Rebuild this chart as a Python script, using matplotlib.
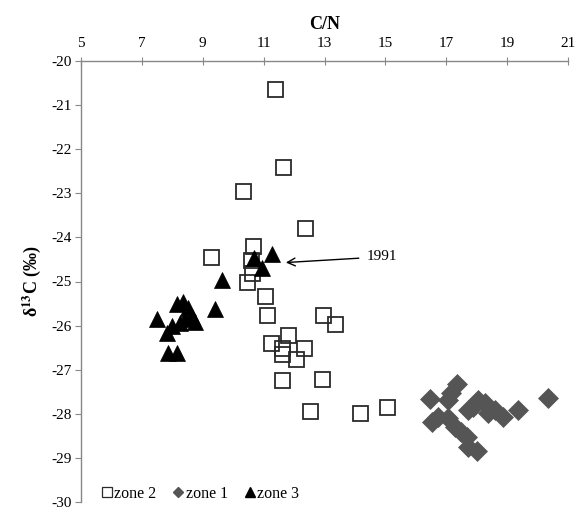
import matplotlib
matplotlib.use("Agg")
import matplotlib.pyplot as plt
from matplotlib.lines import Line2D

# ---- data ----
zone2_x = [11.37, 11.65, 10.33, 12.36, 10.66, 9.26, 10.58, 10.61, 10.46, 11.04, 11.10, 12.95,
           13.34, 11.23, 11.81, 11.59, 11.59, 12.33, 12.06, 11.62, 12.92, 12.54, 14.17, 15.04]
zone2_y = [-20.63, -22.40, -22.95, -23.78, -24.19, -24.45, -24.51, -24.81, -25.00, -25.33, -25.76, -25.76,
           -25.96, -26.39, -26.21, -26.51, -26.64, -26.50, -26.76, -27.23, -27.22, -27.93, -27.99, -27.85]

zone1_x = [16.47, 17.34, 17.17, 17.06, 16.74, 16.52, 17.06, 17.28, 17.50, 17.67, 17.72, 18.00,
           18.05, 17.89, 18.27, 18.60, 18.87, 19.36, 20.35, 18.38, 17.72]
zone1_y = [-27.67, -27.32, -27.53, -27.69, -28.07, -28.18, -28.10, -28.29, -28.41, -28.52, -28.75, -28.84,
           -27.69, -27.84, -27.76, -27.91, -28.07, -27.91, -27.65, -27.99, -27.91]

zone3_x = [10.69, 11.26, 10.94, 9.62, 9.40, 7.49, 8.14, 8.36, 8.53, 8.64, 8.75, 7.98, 7.81,
           8.42, 8.25, 7.87, 8.14]
zone3_y = [-24.47, -24.38, -24.70, -24.97, -25.63, -25.84, -25.50, -25.46, -25.61, -25.80, -25.91, -26.02,
           -26.17, -25.84, -25.95, -26.63, -26.63]

x_ticks = [5, 7, 9, 11, 13, 15, 17, 19, 21]
y_ticks = [-20, -21, -22, -23, -24, -25, -26, -27, -28, -29, -30]
annot_label = "1991"
annot_xy = (11.73, -24.57)
annot_text_xy = (14.4, -24.44)

plt.rcParams['font.family'] = ['Liberation Serif', 'DejaVu Serif']
plt.rcParams['mathtext.fontset'] = 'stix'

fig = plt.figure(figsize=(5.85, 5.09), dpi=100)
ax = fig.add_axes([81/585, 1 - 502/509, (568-81)/585, (502-61)/509])

ax.plot(zone2_x, zone2_y, linestyle='none', marker='s', markersize=10.8,
        markerfacecolor='none', markeredgecolor='#2a2a2a', markeredgewidth=1.3, label='zone 2')
ax.plot(zone1_x, zone1_y, linestyle='none', marker='D', markersize=10.5,
        markerfacecolor='#555555', markeredgecolor='#555555', markeredgewidth=0.5, label='zone 1')
ax.plot(zone3_x, zone3_y, linestyle='none', marker='^', markersize=11,
        markerfacecolor='black', markeredgecolor='black', markeredgewidth=0.5, label='zone 3')

ax.annotate(annot_label, xy=annot_xy, xytext=annot_text_xy, fontsize=11,
            ha='left', va='center',
            arrowprops=dict(arrowstyle='->', color='black', lw=1.0, shrinkA=4, shrinkB=0,
                            mutation_scale=14))

ax.set_xlim(5, 21)
ax.set_ylim(-30, -20)
ax.set_xticks(x_ticks)
ax.set_yticks(y_ticks)
ax.set_yticklabels([str(v) for v in y_ticks])
ax.xaxis.tick_top()
ax.xaxis.set_label_position('top')
ax.spines['right'].set_visible(False)
ax.spines['bottom'].set_visible(False)
for s in ['top', 'left']:
    ax.spines[s].set_color('#888888')
    ax.spines[s].set_linewidth(1.0)
ax.tick_params(axis='x', direction='inout', length=6, width=0.8, color='#888888',
               labelsize=11, pad=5)
ax.tick_params(axis='y', direction='out', length=4, width=0.8, color='#888888',
               labelsize=11, pad=3)
ax.set_xlabel('C/N', fontsize=13, fontweight='bold', labelpad=6)
ax.set_ylabel(r'δ$^{\mathbf{13}}$C (‰)', fontsize=13, fontweight='bold', labelpad=6)

handles = [
    Line2D([], [], linestyle='none', marker='s', markersize=7, markerfacecolor='none',
           markeredgecolor='#2a2a2a', markeredgewidth=0.9),
    Line2D([], [], linestyle='none', marker='D', markersize=5.5, markerfacecolor='#555555',
           markeredgecolor='#555555'),
    Line2D([], [], linestyle='none', marker='^', markersize=7, markerfacecolor='black',
           markeredgecolor='black'),
]
fig.legend(handles, ['zone 2', 'zone 1', 'zone 3'], loc='center left',
           bbox_to_anchor=(102/585, 1 - 494/509), ncol=3, frameon=False, fontsize=11.5,
           handlelength=0.6, handletextpad=0.15, columnspacing=1.1, borderpad=0, borderaxespad=0)

fig.savefig('out.png', dpi=100)
